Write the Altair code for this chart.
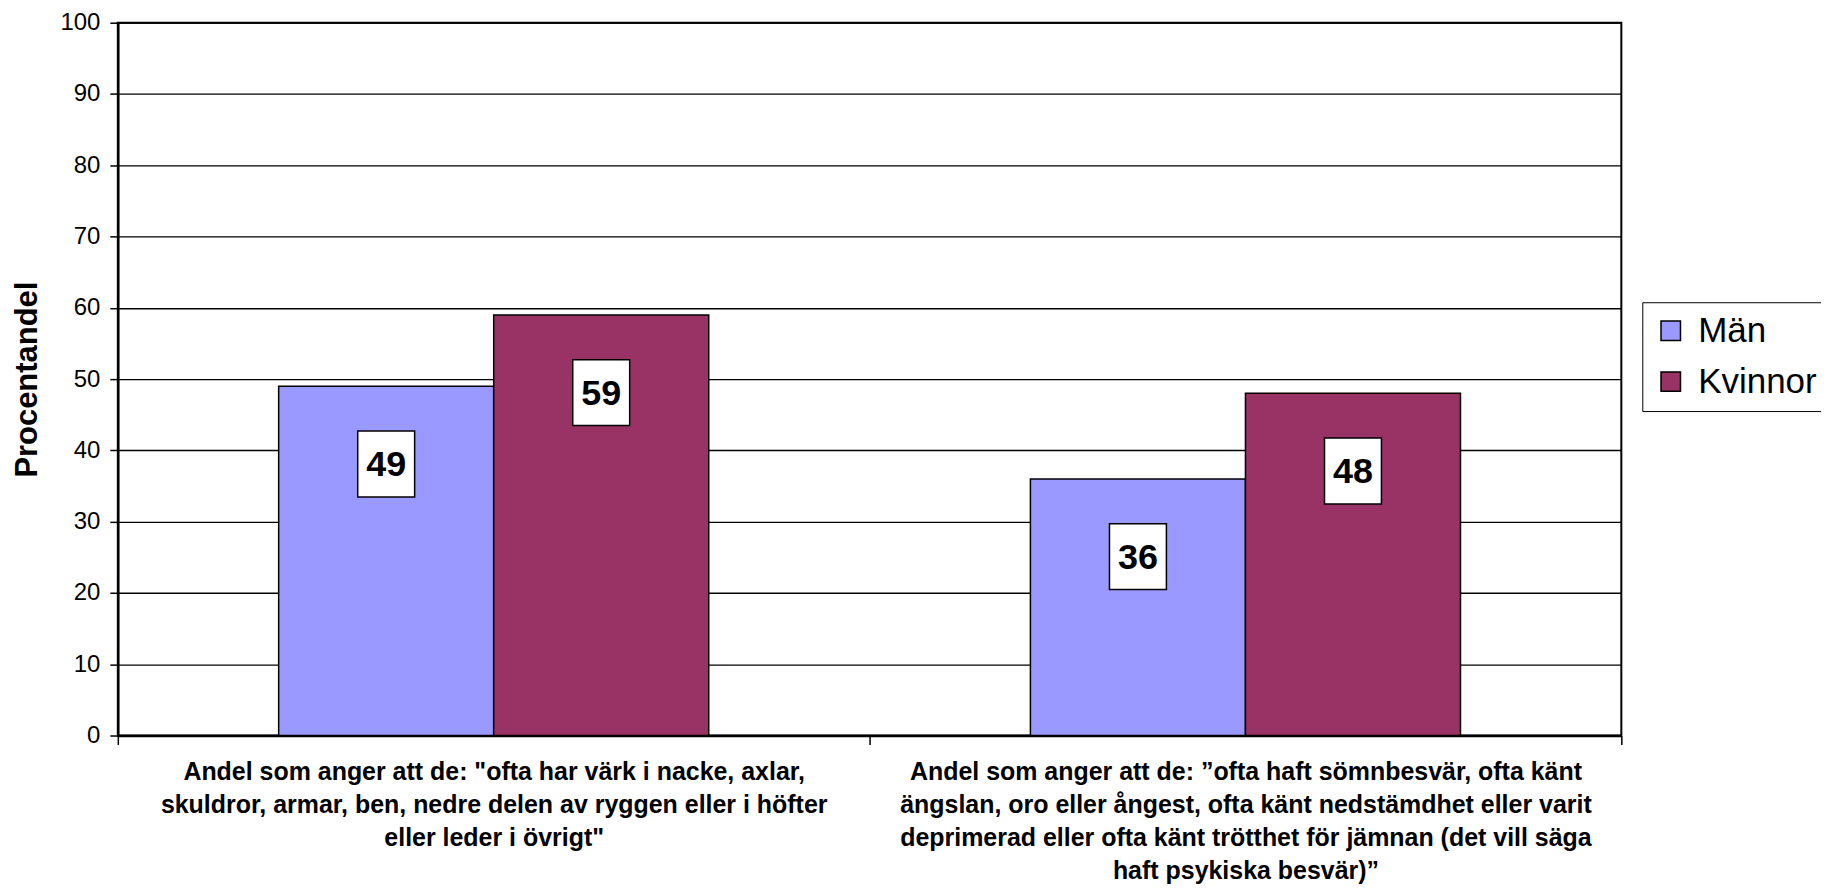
import altair as alt
import pandas as pd

categories = [
    'Andel som anger att de: "ofta har värk i nacke, axlar,|skuldror, armar, ben, nedre delen av ryggen eller i höfter|eller leder i övrigt"',
    'Andel som anger att de: ”ofta haft sömnbesvär, ofta känt|ängslan, oro eller ångest, ofta känt nedstämdhet eller varit|deprimerad eller ofta känt trötthet för jämnan (det vill säga|haft psykiska besvär)”',
]
series = ["Män", "Kvinnor"]
man_values = [49, 36]
kvinnor_values = [59, 48]
colors = ["#9999FF", "#993366"]
y_ticks = list(range(0, 101, 10))

rows = []
for i, c in enumerate(categories):
    rows.append({"kategori": c, "kon": series[0], "varde": man_values[i]})
    rows.append({"kategori": c, "kon": series[1], "varde": kvinnor_values[i]})
df = pd.DataFrame(rows)

FONT = "Liberation Sans"

x_scale = alt.Scale(paddingInner=0, paddingOuter=0)
off_scale = alt.Scale(paddingInner=0, paddingOuter=0.748)

x_enc = alt.X(
    "kategori:N",
    sort=categories,
    scale=x_scale,
    axis=alt.Axis(
        title=None,
        labelAngle=0,
        labelExpr="isValid(datum.value) ? split(datum.value, '|') : ''",
        labelFont=FONT,
        labelFontWeight="bold",
        labelFontSize=25,
        labelLineHeight=33,
        labelColor="black",
        labelBaseline="top",
        labelPadding=15,
        tickBand="extent",
        tickSize=9,
        tickColor="black",
        tickWidth=1.5,
        domainColor="black",
        domainWidth=2.5,
        grid=False,
        labelLimit=0,
    ),
)
xoff = alt.XOffset("kon:N", sort=series, scale=off_scale)

y_enc = alt.Y(
    "varde:Q",
    scale=alt.Scale(domain=[0, 100], nice=False),
    axis=alt.Axis(
        title="Procentandel",
        titleFont=FONT,
        titleFontSize=31,
        titleFontWeight="bold",
        titleColor="black",
        titlePadding=16,
        values=y_ticks,
        labelFont=FONT,
        labelFontSize=24,
        labelColor="black",
        labelPadding=10,
        tickSize=8,
        tickColor="black",
        tickWidth=1.5,
        domainColor="black",
        domainWidth=2.5,
        grid=True,
        gridColor="black",
        gridWidth=1.3,
        gridOpacity=1,
    ),
)

bars = alt.Chart(df).mark_bar(stroke="black", strokeWidth=1.5, opacity=1).encode(
    x=x_enc,
    xOffset=xoff,
    y=y_enc,
    color=alt.Color(
        "kon:N",
        sort=series,
        scale=alt.Scale(domain=series, range=colors),
        legend=alt.Legend(
            title=None,
            orient="none",
            legendX=1527,
            legendY=280,
            strokeColor="black",
            fillColor="white",
            padding=11,
            symbolType="square",
            symbolSize=380,
            symbolStrokeColor="black",
            symbolStrokeWidth=1.5,
            labelFont=FONT,
            labelFontSize=35,
            labelColor="black",
            labelOffset=10,
            rowPadding=15,
            labelLimit=0,
        ),
    ),
)

base_lbl = alt.Chart(df).transform_calculate(lbl_y="datum.varde - 10.9")

box_path = "M-0.864,-1L0.864,-1L0.864,1L-0.864,1Z"
boxes = base_lbl.mark_point(
    shape=box_path, size=4356, filled=True, fill="white", stroke="black",
    strokeWidth=1.5, opacity=1,
).encode(
    x=alt.X("kategori:N", sort=categories, scale=x_scale),
    xOffset=alt.XOffset("kon:N", sort=series, scale=off_scale),
    y=alt.Y("lbl_y:Q"),
)

texts = base_lbl.mark_text(
    font=FONT, fontSize=36, fontWeight="bold", color="black",
    baseline="middle", align="center", dy=1,
).encode(
    x=alt.X("kategori:N", sort=categories, scale=x_scale),
    xOffset=alt.XOffset("kon:N", sort=series, scale=off_scale),
    y=alt.Y("lbl_y:Q"),
    text=alt.Text("varde:Q"),
)

chart = (
    alt.layer(bars, boxes, texts)
    .properties(
        width=1506,
        height=714,
        autosize=alt.AutoSizeParams(type="none"),
        padding={"left": 110, "top": 14, "right": 200, "bottom": 150},
        background="white",
    )
    .configure_view(stroke="black", strokeWidth=2)
)

chart.save("out.html", embed_options={"renderer": "svg", "actions": False})
